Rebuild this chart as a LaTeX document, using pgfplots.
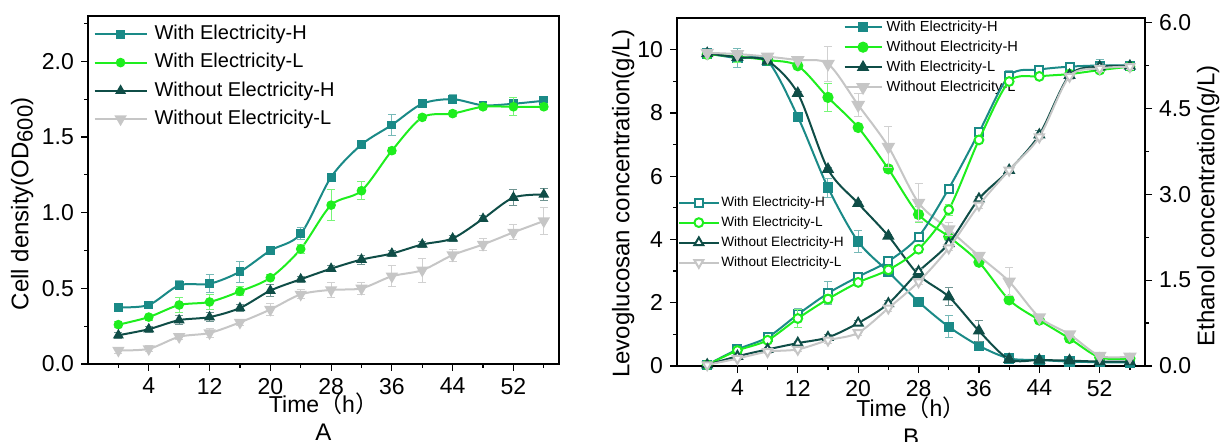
\documentclass[border=0pt]{standalone}
\usepackage{fontspec}
\setmainfont{Liberation Sans}
\newfontfamily\cjk{Noto Sans CJK SC}
\usepackage{pgfplots}
\pgfplotsset{compat=1.18}

\definecolor{tealc}{HTML}{1A8A87}
\definecolor{limec}{HTML}{1EEE1E}
\definecolor{darkc}{HTML}{0F4D47}
\definecolor{greyc}{HTML}{C6C6C6}

\newcommand{\ylabfont}{\fontsize{12}{14}\selectfont}
\newcommand{\xlabfont}{\fontsize{11.5}{13}\selectfont}

\pgfplotsset{
  panel/.style={
    scale only axis, anchor=south west, tick align=outside, clip mode=individual,
    xmin=-4, xmax=58, xtick={4,12,...,52}, minor xtick={0,8,...,56},
    xtick pos=lower, ytick pos=left,
    tick style={black, line width=0.6pt},
    major tick length=3.5pt, minor tick length=2pt,
    axis line style={line width=0.6pt},
    ticklabel style={font=\fontsize{11.5}{13}\selectfont},
    /pgf/number format/assume math mode=true,
    every axis x label/.style={at={(axis description cs:0.5,-0.115)}, anchor=center, font=\xlabfont},
    legend cell align=left,
    every axis plot/.append style={line width=1pt, smooth, tension=0.5,
      mark options={line width=0.6pt, solid}},
    error bars/error mark options={rotate=90, mark size=2pt, line width=0.5pt},
  },
  eb/.style={error bars/.cd, y dir=both, y explicit,
    error bar style={line width=0.5pt, color=#1}},
  mytime/.style={xlabel={Time{\cjk （}h{\cjk ）}}},
}

\begin{document}
\begin{tikzpicture}
% ---------- panel A
\begin{axis}[panel, mytime,
  at={(44pt,-182pt)}, width=235.5pt, height=174pt,
  ymin=0, ymax=2.3, ytick={0,0.5,...,2.0}, minor ytick={0.25,0.75,...,2.25},
  yticklabel style={/pgf/number format/.cd, fixed, fixed zerofill, precision=1},
  ylabel={Cell density(OD\raisebox{-0.35ex}{\fontsize{11}{12}\selectfont 600})},
  every axis y label/.style={at={(axis description cs:-0.140,0.46)}, rotate=90, anchor=center, font=\ylabfont},
  legend style={at={(axis description cs:0.011,0.975)}, anchor=north west, draw=none, fill=none,
    inner sep=0pt, font=\fontsize{10}{12}\selectfont, row sep=4.8pt, column sep=3.5pt,
    nodes={inner sep=0pt, text height=7.3pt, text depth=2pt}},
  legend image code/.code={\draw[mark repeat=2, mark phase=2, #1] plot coordinates {(0pt,0pt) (13pt,0pt) (26pt,0pt)};},
]
\addplot[color=tealc, mark=square*, mark size=1.9pt, eb=tealc!60] coordinates {
 (0,0.375) +- (0,0.02) (4,0.39) +- (0,0.02) (8,0.52) +- (0,0.03) (12,0.53) +- (0,0.06)
 (16,0.61) +- (0,0.07) (20,0.75) +- (0,0.02) (24,0.86) +- (0,0.04) (28,1.235) +- (0,0.02)
 (32,1.45) +- (0,0.02) (36,1.58) +- (0,0.07) (40,1.72) +- (0,0.02) (44,1.75) +- (0,0.03)
 (48,1.71) +- (0,0.02) (52,1.72) +- (0,0.02) (56,1.74) +- (0,0.02)};
\addlegendentry{With Electricity-H}
\addplot[color=limec, mark=*, mark size=2.1pt, eb=limec!60] coordinates {
 (0,0.26) +- (0,0.02) (4,0.31) +- (0,0.02) (8,0.39) +- (0,0.05) (12,0.41) +- (0,0.05)
 (16,0.48) +- (0,0.03) (20,0.57) +- (0,0.02) (24,0.76) +- (0,0.03) (28,1.05) +- (0,0.10)
 (32,1.145) +- (0,0.06) (36,1.41) +- (0,0.02) (40,1.63) +- (0,0.02) (44,1.655) +- (0,0.02)
 (48,1.70) +- (0,0.02) (52,1.70) +- (0,0.06) (56,1.70) +- (0,0.02)};
\addlegendentry{With Electricity-L}
\addplot[color=darkc, mark=triangle*, mark size=2.6pt, eb=darkc!60] coordinates {
 (0,0.19) +- (0,0.02) (4,0.23) +- (0,0.02) (8,0.29) +- (0,0.03) (12,0.31) +- (0,0.03)
 (16,0.37) +- (0,0.02) (20,0.485) +- (0,0.04) (24,0.56) +- (0,0.02) (28,0.63) +- (0,0.02)
 (32,0.69) +- (0,0.03) (36,0.73) +- (0,0.02) (40,0.79) +- (0,0.02) (44,0.83) +- (0,0.02)
 (48,0.96) +- (0,0.02) (52,1.10) +- (0,0.05) (56,1.12) +- (0,0.04)};
\addlegendentry{Without Electricity-H}
\addplot[color=greyc, mark=triangle*, mark size=2.6pt, mark options={rotate=180}, eb=greyc!80] coordinates {
 (0,0.09) +- (0,0.02) (4,0.10) +- (0,0.02) (8,0.18) +- (0,0.02) (12,0.205) +- (0,0.03)
 (16,0.275) +- (0,0.02) (20,0.36) +- (0,0.04) (24,0.46) +- (0,0.03) (28,0.49) +- (0,0.05)
 (32,0.50) +- (0,0.04) (36,0.58) +- (0,0.07) (40,0.62) +- (0,0.08) (44,0.72) +- (0,0.04)
 (48,0.79) +- (0,0.04) (52,0.87) +- (0,0.05) (56,0.945) +- (0,0.09)};
\addlegendentry{Without Electricity-L}
\node[font=\ylabfont] at (axis description cs:0.5,-0.195) {A};
\end{axis}

% ---------- panel B, levoglucosan (left axis)
\begin{axis}[panel, mytime,
  at={(338.5pt,-183pt)}, width=234pt, height=174pt,
  ymin=0, ymax=11, ytick={0,2,...,10}, minor ytick={1,3,...,9},
  ylabel={Levoglucosan concentration(g/L)},
  every axis y label/.style={at={(axis description cs:-0.115,0.466)}, rotate=90, anchor=center, font=\ylabfont},
  every axis x label/.style={at={(axis description cs:0.5,-0.12)}, anchor=center, font=\xlabfont},
  legend style={at={(axis description cs:0.355,0.994)}, anchor=north west, draw=none, fill=none,
    inner sep=0pt, font=\fontsize{7.3}{9}\selectfont, row sep=3.3pt, column sep=2pt,
    nodes={inner sep=0pt, text height=5.3pt, text depth=1.4pt}},
  legend image code/.code={\draw[mark repeat=2, mark phase=2, #1] plot coordinates {(0pt,0pt) (9.25pt,0pt) (18.5pt,0pt)};},
]
\addplot[color=tealc, mark=square*, mark size=2.3pt, eb=tealc!60] coordinates {
 (0,9.88) +- (0,0.08) (4,9.73) +- (0,0.3) (8,9.64) +- (0,0.05) (12,7.88) +- (0,0.05)
 (16,5.64) +- (0,0.3) (20,3.93) +- (0,0.35) (24,2.98) +- (0,0.08) (28,2.03) +- (0,0.05)
 (32,1.24) +- (0,0.35) (36,0.64) +- (0,0.1) (40,0.24) +- (0,0.05) (44,0.19) +- (0,0.05)
 (48,0.14) +- (0,0.05) (52,0.12) +- (0,0.05) (56,0.11) +- (0,0.05)};
\addlegendentry{With Electricity-H}
\addplot[color=limec, mark=*, mark size=2.5pt, eb=limec!60] coordinates {
 (0,9.85) +- (0,0.08) (4,9.78) +- (0,0.2) (8,9.67) +- (0,0.05) (12,9.49) +- (0,0.05)
 (16,8.49) +- (0,0.45) (20,7.54) +- (0,0.05) (24,6.23) +- (0,0.05) (28,4.79) +- (0,0.25)
 (32,4.09) +- (0,0.1) (36,3.28) +- (0,0.05) (40,2.09) +- (0,0.05) (44,1.45) +- (0,0.05)
 (48,0.87) +- (0,0.05) (52,0.27) +- (0,0.05) (56,0.24) +- (0,0.05)};
\addlegendentry{Without Electricity-H}
\addplot[color=darkc, mark=triangle*, mark size=3pt, eb=darkc!60] coordinates {
 (0,9.88) +- (0,0.05) (4,9.76) +- (0,0.05) (8,9.64) +- (0,0.05) (12,8.62) +- (0,0.05)
 (16,6.22) +- (0,0.05) (20,5.14) +- (0,0.05) (24,4.11) +- (0,0.05) (28,2.88) +- (0,0.05)
 (32,2.19) +- (0,0.28) (36,1.11) +- (0,0.33) (40,0.21) +- (0,0.05) (44,0.19) +- (0,0.05)
 (48,0.17) +- (0,0.05) (52,0.14) +- (0,0.05) (56,0.14) +- (0,0.05)};
\addlegendentry{With Electricity-L}
\addplot[color=greyc, mark=triangle*, mark size=3pt, mark options={rotate=180}, eb=greyc!80] coordinates {
 (0,9.90) +- (0,0.05) (4,9.86) +- (0,0.05) (8,9.78) +- (0,0.05) (12,9.67) +- (0,0.05)
 (16,9.55) +- (0,0.55) (20,8.25) +- (0,0.35) (24,6.93) +- (0,0.65) (28,5.16) +- (0,0.6)
 (32,4.32) +- (0,0.2) (36,3.48) +- (0,0.05) (40,2.67) +- (0,0.45) (44,1.54) +- (0,0.05)
 (48,1.00) +- (0,0.05) (52,0.32) +- (0,0.05) (56,0.30) +- (0,0.05)};
\addlegendentry{Without Electricity-L}
\node[font=\ylabfont] at (axis description cs:0.5,-0.204) {B};
\end{axis}

% ---------- panel B, ethanol (right axis)
\begin{axis}[panel,
  at={(338.5pt,-183pt)}, width=234pt, height=174pt,
  axis y line*=right, axis x line=none, ytick pos=right,
  ymin=0, ymax=6.08, ytick={0,1.5,...,6}, minor ytick={0.75,2.25,...,5.25},
  yticklabel style={/pgf/number format/.cd, fixed, fixed zerofill, precision=1},
  ylabel={Ethanol concentration(g/L)},
  every axis y label/.style={at={(axis description cs:1.135,0.46)}, rotate=90, anchor=center, font=\ylabfont},
  legend style={at={(axis description cs:0.002,0.489)}, anchor=north west, draw=none, fill=none,
    inner sep=0pt, font=\fontsize{6.8}{8}\selectfont, row sep=3.6pt, column sep=1pt,
    nodes={inner sep=0pt, text height=5pt, text depth=1.4pt}},
  legend image code/.code={\draw[mark repeat=2, mark phase=2, #1] plot coordinates {(0pt,0pt) (9.75pt,0pt) (19.5pt,0pt)};},
]
\addplot[color=tealc, mark=square*, mark size=2pt, mark options={fill=white}, eb=tealc!60] coordinates {
 (0,0.02) +- (0,0.02) (4,0.29) +- (0,0.03) (8,0.50) +- (0,0.03) (12,0.90) +- (0,0.1)
 (16,1.27) +- (0,0.2) (20,1.56) +- (0,0.05) (24,1.83) +- (0,0.05) (28,2.26) +- (0,0.03)
 (32,3.10) +- (0,0.05) (36,4.08) +- (0,0.03) (40,5.07) +- (0,0.1) (44,5.18) +- (0,0.05)
 (48,5.23) +- (0,0.05) (52,5.25) +- (0,0.1) (56,5.25) +- (0,0.05)};
\addlegendentry{With Electricity-H}
\addplot[color=limec, mark=*, mark size=2.2pt, mark options={fill=white}, eb=limec!60] coordinates {
 (0,0.02) +- (0,0.02) (4,0.27) +- (0,0.03) (8,0.45) +- (0,0.03) (12,0.83) +- (0,0.15)
 (16,1.17) +- (0,0.08) (20,1.46) +- (0,0.05) (24,1.68) +- (0,0.05) (28,2.04) +- (0,0.05)
 (32,2.73) +- (0,0.1) (36,3.95) +- (0,0.03) (40,4.97) +- (0,0.05) (44,5.06) +- (0,0.05)
 (48,5.10) +- (0,0.03) (52,5.17) +- (0,0.05) (56,5.23) +- (0,0.05)};
\addlegendentry{With Electricity-L}
\addplot[color=darkc, mark=triangle*, mark size=2.6pt, mark options={fill=white}, eb=darkc!60] coordinates {
 (0,0.02) +- (0,0.02) (4,0.17) +- (0,0.03) (8,0.29) +- (0,0.03) (12,0.40) +- (0,0.03)
 (16,0.50) +- (0,0.05) (20,0.75) +- (0,0.05) (24,1.09) +- (0,0.05) (28,1.65) +- (0,0.05)
 (32,2.14) +- (0,0.05) (36,2.92) +- (0,0.05) (40,3.42) +- (0,0.03) (44,4.04) +- (0,0.08)
 (48,5.08) +- (0,0.05) (52,5.23) +- (0,0.05) (56,5.24) +- (0,0.05)};
\addlegendentry{Without Electricity-H}
\addplot[color=greyc, mark=triangle*, mark size=2.6pt, mark options={fill=white, rotate=180}, eb=greyc!80] coordinates {
 (0,0.02) +- (0,0.02) (4,0.13) +- (0,0.03) (8,0.25) +- (0,0.03) (12,0.29) +- (0,0.03)
 (16,0.45) +- (0,0.05) (20,0.58) +- (0,0.05) (24,1.01) +- (0,0.05) (28,1.47) +- (0,0.05)
 (32,2.06) +- (0,0.05) (36,2.81) +- (0,0.05) (40,3.42) +- (0,0.03) (44,4.00) +- (0,0.05)
 (48,5.06) +- (0,0.05) (52,5.20) +- (0,0.05) (56,5.23) +- (0,0.05)};
\addlegendentry{Without Electricity-L}
\end{axis}

\pgfresetboundingbox
\path (0pt,0pt) rectangle (610pt,-221pt);
\end{tikzpicture}
\end{document}
